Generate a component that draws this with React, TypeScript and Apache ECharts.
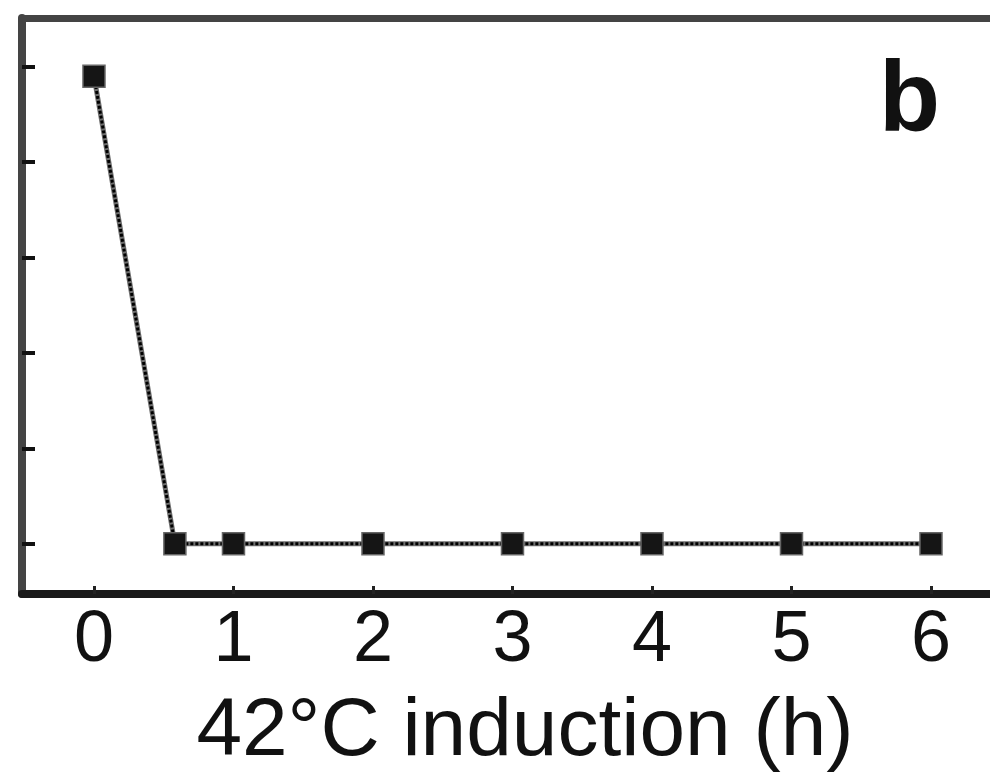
import React, { useEffect, useRef } from "react";
import * as echarts from "echarts";

const hours = [0, 0.58, 1, 2, 3, 4, 5, 6];
const values = [4.9, 0, 0, 0, 0, 0, 0, 0];
const xTickValues = [0, 1, 2, 3, 4, 5, 6];
const yTickValues = [0, 1, 2, 3, 4, 5];
const xTitle = "42°C induction (h)";
const panelLabel = "b";

export default function App() {
  const ref = useRef<HTMLDivElement>(null);
  useEffect(() => {
    if (!ref.current) return;
    const chart = echarts.init(ref.current, undefined, { renderer: "svg" });
    const pts = hours.map((h, i) => [h, values[i]]);
    const font = "'Liberation Sans', Arial, Helvetica, sans-serif";
    chart.setOption({
      animation: false,
      backgroundColor: "#ffffff",
      grid: { left: 22, right: 0, top: 18, bottom: 174.5 },
      xAxis: [
        {
          type: "value",
          position: "bottom",
          min: -0.516,
          max: 6.423,
          splitLine: { show: false },
          axisLine: { show: true, onZero: false, lineStyle: { color: "#1a1a1a", width: 8 } },
          axisTick: {
            show: true,
            inside: true,
            length: 8,
            customValues: xTickValues,
            lineStyle: { color: "#222", width: 3 },
          },
          axisLabel: {
            show: true,
            customValues: xTickValues,
            fontSize: 72,
            fontFamily: font,
            color: "#111",
            margin: 6,
          },
          name: xTitle,
          nameLocation: "middle",
          nameGap: 91,
          nameTextStyle: {
            fontSize: 82,
            fontFamily: font,
            color: "#111",
            padding: [0, 0, 0, 38],
          },
        },
        {
          type: "value",
          position: "top",
          min: -0.516,
          max: 6.423,
          splitLine: { show: false },
          axisLine: { show: true, onZero: false, lineStyle: { color: "#444", width: 7 } },
          axisTick: { show: false },
          axisLabel: { show: false },
        },
      ],
      yAxis: {
        type: "value",
        position: "left",
        min: -0.526,
        max: 5.51,
        splitLine: { show: false },
        axisLine: { show: true, onZero: false, lineStyle: { color: "#444", width: 8 } },
        axisTick: {
          show: true,
          inside: true,
          length: 13,
          customValues: yTickValues,
          lineStyle: { color: "#111", width: 4 },
        },
        axisLabel: { show: false },
      },
      graphic: [
        {
          type: "text",
          left: 879,
          top: 46,
          style: {
            text: panelLabel,
            font: "bold 100px 'Liberation Sans', Arial, sans-serif",
            fill: "#111",
          },
        },
      ],
      series: [
        {
          type: "line",
          xAxisIndex: 0,
          data: pts,
          symbol: "none",
          lineStyle: { color: "#6e6e6e", width: 5 },
          z: 2,
        },
        {
          type: "line",
          xAxisIndex: 0,
          data: pts,
          symbol: "rect",
          symbolSize: 22,
          itemStyle: { color: "#151515", borderColor: "#666", borderWidth: 1.5 },
          lineStyle: { color: "#000", width: 3, type: [3, 2] },
          z: 3,
        },
      ],
    });
    return () => chart.dispose();
  }, []);
  return (
    <div
      ref={ref}
      style={{ position: "fixed", left: 0, top: 0, width: 990, height: 772 }}
    />
  );
}
